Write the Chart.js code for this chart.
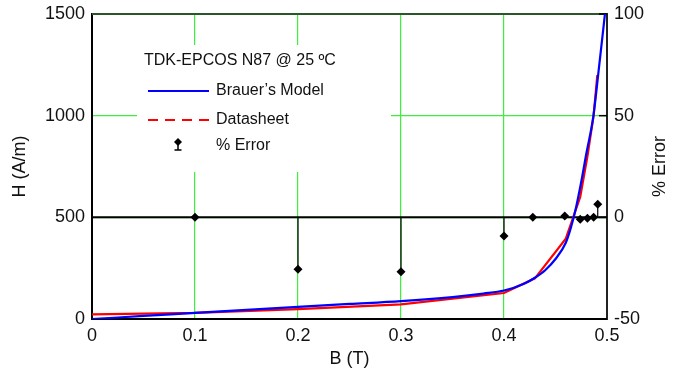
<!DOCTYPE html>
<html>
<head>
<meta charset="utf-8">
<script src="https://cdn.jsdelivr.net/npm/chart.js@4"></script>
<style>
  html, body { margin: 0; padding: 0; background: #fff; }
  #wrap { width: 695px; height: 384px; }
</style>
</head>
<body>
<div id="wrap"><canvas id="bhChart"></canvas></div>
<script>
// Brauer's model curve (B in T, H in A/m)
const modelB = [0, 0.05, 0.1, 0.15, 0.2, 0.25, 0.3, 0.35, 0.38, 0.4, 0.42, 0.43, 0.44, 0.45, 0.46, 0.465, 0.47, 0.475, 0.48, 0.4867, 0.4925, 0.498];
const modelH = [0, 15, 30, 45, 60, 74, 88, 108, 125, 140, 175, 203, 240, 295, 375, 450, 550, 675, 815, 995, 1250, 1500];

// datasheet points
const sheetB = [0, 0.1, 0.2, 0.3, 0.4, 0.43, 0.46, 0.474, 0.481, 0.487, 0.4906];
const sheetH = [23, 30, 49, 72, 128, 200, 395, 600, 800, 1000, 1200];

// % error points
const errB = [0.1, 0.2, 0.3, 0.4, 0.428, 0.459, 0.474, 0.481, 0.487, 0.491];
const errPct = [0, -25.5, -26.8, -9.2, 0, 0.6, -1, -0.5, 0, 6.4];

const bTicks = [0, 0.1, 0.2, 0.3, 0.4, 0.5];
const hTicks = [0, 500, 1000, 1500];
const errTicks = [-50, 0, 50, 100];

const FONT = "'Liberation Sans', Arial, sans-serif";
const GREEN = '#3ef03e';

const toPoints = (xs, ys) => xs.map((x, i) => ({ x: x, y: ys[i] }));

const extras = {
  id: 'extras',
  beforeDatasetsDraw(chart) {
    const { ctx, chartArea: a, scales } = chart;
    ctx.save();
    // white box behind the legend
    ctx.fillStyle = '#fff';
    ctx.fillRect(137, 45, 254, 127);

    // top frame line
    ctx.strokeStyle = '#2b552b';
    ctx.lineWidth = 2;
    ctx.beginPath();
    ctx.moveTo(a.left, a.top);
    ctx.lineTo(a.right, a.top);
    ctx.stroke();

    // zero line of the error axis
    const y0 = scales.y2.getPixelForValue(0);
    ctx.strokeStyle = '#000';
    ctx.lineWidth = 2;
    ctx.beginPath();
    ctx.moveTo(a.left, y0);
    ctx.lineTo(a.right, y0);
    ctx.stroke();

    // drop lines from 0 to each error point
    ctx.lineWidth = 1.2;
    errB.forEach((b, i) => {
      const px = scales.x.getPixelForValue(b);
      ctx.beginPath();
      ctx.moveTo(px, y0);
      ctx.lineTo(px, scales.y2.getPixelForValue(errPct[i]));
      ctx.stroke();
    });

    // inner ticks on the right axis
    ctx.lineWidth = 1.5;
    errTicks.forEach(v => {
      const py = scales.y2.getPixelForValue(v);
      ctx.beginPath();
      ctx.moveTo(a.right - 8, py);
      ctx.lineTo(a.right, py);
      ctx.stroke();
    });
    ctx.restore();
  },
  afterDatasetsDraw(chart) {
    const { ctx, chartArea: a } = chart;
    ctx.save();
    ctx.fillStyle = '#111';
    ctx.textBaseline = 'middle';
    ctx.textAlign = 'left';
    ctx.font = '16px ' + FONT;
    ctx.fillText('TDK-EPCOS N87 @ 25 ºC', 144, 61);
    ctx.fillText('Brauer\u2019s Model', 216, 91);
    ctx.fillText('Datasheet', 216, 120);
    ctx.fillText('% Error', 216, 146);

    // legend symbols
    ctx.lineWidth = 2;
    ctx.strokeStyle = '#0000ff';
    ctx.beginPath();
    ctx.moveTo(148, 91);
    ctx.lineTo(209, 91);
    ctx.stroke();

    ctx.strokeStyle = '#ff0000';
    ctx.setLineDash([10, 7]);
    ctx.beginPath();
    ctx.moveTo(148, 120);
    ctx.lineTo(209, 120);
    ctx.stroke();
    ctx.setLineDash([]);

    ctx.strokeStyle = '#000';
    ctx.fillStyle = '#000';
    ctx.lineWidth = 1.5;
    ctx.beginPath();
    ctx.moveTo(178, 142);
    ctx.lineTo(178, 150);
    ctx.moveTo(174.5, 150);
    ctx.lineTo(181.5, 150);
    ctx.stroke();
    ctx.beginPath();
    ctx.moveTo(178, 138);
    ctx.lineTo(182, 142);
    ctx.lineTo(178, 146);
    ctx.lineTo(174, 142);
    ctx.closePath();
    ctx.fill();

    // right axis title, reading bottom to top
    ctx.fillStyle = '#111';
    ctx.font = '18px ' + FONT;
    ctx.translate(660, (a.top + a.bottom) / 2);
    ctx.rotate(-Math.PI / 2);
    ctx.textAlign = 'center';
    ctx.fillText('% Error', 0, 0);
    ctx.restore();
  }
};

const fixWidth = w => s => { s.width = w; s.paddingTop = 0; s.paddingBottom = 0; };

const ctx = document.getElementById('bhChart').getContext('2d');
const bhChart = new Chart(ctx, {
  type: 'scatter',
  data: {
    datasets: [
      {
        label: '% Error',
        data: toPoints(errB, errPct),
        yAxisID: 'y2',
        showLine: false,
        pointStyle: 'rectRot',
        pointRadius: 4.5,
        backgroundColor: '#000',
        borderColor: '#000',
        borderWidth: 0,
        order: 0
      },
      {
        label: "Brauer's Model",
        data: toPoints(modelB, modelH),
        yAxisID: 'y',
        showLine: true,
        borderColor: '#0000ff',
        borderWidth: 2.2,
        pointRadius: 0,
        cubicInterpolationMode: 'monotone',
        order: 1
      },
      {
        label: 'Datasheet',
        data: toPoints(sheetB, sheetH),
        yAxisID: 'y',
        showLine: true,
        borderColor: '#ff0000',
        borderWidth: 2.2,
        pointRadius: 0,
        tension: 0,
        order: 2
      }
    ]
  },
  options: {
    responsive: true,
    maintainAspectRatio: false,
    animation: false,
    layout: { padding: { top: 14, left: 0, right: 0, bottom: 0 } },
    plugins: {
      legend: { display: false },
      tooltip: { enabled: false }
    },
    scales: {
      x: {
        type: 'linear',
        min: 0,
        max: 0.5,
        afterBuildTicks: s => { s.ticks = bTicks.map(v => ({ value: v })); },
        afterFit: s => { s.height = 65; s.paddingLeft = 0; s.paddingRight = 0; },
        border: { display: true, color: '#000', width: 2 },
        grid: {
          drawTicks: false,
          color: c => (c.tick.value > 0 && c.tick.value < 0.5) ? GREEN : 'rgba(0,0,0,0)',
          lineWidth: 1.2
        },
        ticks: { color: '#111', padding: 6, font: { family: FONT, size: 18 }, callback: v => String(v) },
        title: { display: true, text: 'B (T)', color: '#111', padding: { bottom: 14 }, font: { family: FONT, size: 18 } }
      },
      y: {
        position: 'left',
        min: 0,
        max: 1500,
        afterBuildTicks: s => { s.ticks = hTicks.map(v => ({ value: v })); },
        afterFit: fixWidth(92),
        border: { display: true, color: '#000', width: 2 },
        grid: {
          drawTicks: false,
          color: c => (c.tick.value > 0 && c.tick.value < 1500) ? GREEN : 'rgba(0,0,0,0)',
          lineWidth: 1.2
        },
        ticks: { color: '#111', padding: 7, font: { family: FONT, size: 18 }, callback: v => String(v) },
        title: { display: true, text: 'H (A/m)', color: '#111', padding: { top: 9 }, font: { family: FONT, size: 18 } }
      },
      y2: {
        position: 'right',
        min: -50,
        max: 100,
        afterBuildTicks: s => { s.ticks = errTicks.map(v => ({ value: v })); },
        afterFit: fixWidth(88),
        border: { display: true, color: '#222', width: 2 },
        grid: { drawOnChartArea: false, drawTicks: false },
        ticks: { color: '#111', padding: 7, font: { family: FONT, size: 18 }, callback: v => String(v) }
      }
    }
  },
  plugins: [extras]
});
</script>
</body>
</html>
